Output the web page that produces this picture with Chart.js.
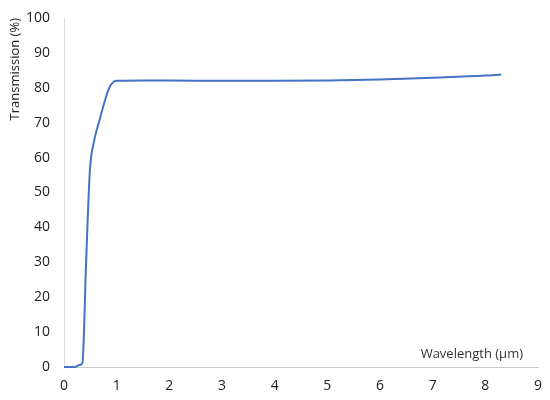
<!DOCTYPE html>
<html>
<head>
<meta charset="utf-8">
<script src="https://cdn.jsdelivr.net/npm/chart.js@4"></script>
<style>
  html, body { margin: 0; padding: 0; background: #fff; }
  #wrap { width: 550px; height: 400px; }
</style>
</head>
<body>
<div id="wrap"><canvas id="c"></canvas></div>
<script>
// wavelength in µm and transmission in %
const wavelength = [0, 0.2, 0.3, 0.35, 0.42, 0.49, 0.56, 0.68, 0.78, 0.86, 0.95, 1.0, 1.5, 2, 3, 4, 5, 6, 7, 8, 8.3];
const transmission = [0, 0, 0.6, 1.2, 30, 56, 64, 71, 76.5, 80, 81.8, 82, 82.1, 82.1, 82, 82, 82.1, 82.4, 82.9, 83.5, 83.8];

const xTitle = 'Wavelength (µm)';
const yTitle = 'Transmission (%)';

const points = wavelength.map((w, i) => ({ x: w, y: transmission[i] }));

const fontFamily = '"Open Sans", "Liberation Sans", sans-serif';

// Excel-style axis title sitting inside the plot, above the x axis
const insideTitle = {
    id: 'insideTitle',
    afterDraw(chart) {
        const ctx = chart.ctx;
        const area = chart.chartArea;
        ctx.save();
        ctx.font = '13px ' + fontFamily;
        ctx.fillStyle = '#333';
        ctx.textAlign = 'right';
        ctx.textBaseline = 'middle';
        ctx.fillText(xTitle, area.right - 15, area.bottom - 13);
        ctx.restore();
    }
};

let chart = new Chart(document.getElementById('c'), {
    type: 'line',
    data: {
        datasets: [{
            label: yTitle,
            data: points,
            borderColor: 'rgb(68, 114, 196)',
            borderWidth: 2,
            pointRadius: 0,
            cubicInterpolationMode: 'monotone',
            fill: false,
            clip: false
        }]
    },
    options: {
        responsive: true,
        maintainAspectRatio: false,
        animation: false,
        layout: { padding: { top: 18, right: 12, left: 0, bottom: 0 } },
        plugins: {
            legend: { display: false },
            tooltip: { enabled: false }
        },
        scales: {
            x: {
                type: 'linear',
                min: 0,
                max: 9,
                grid: { display: false },
                border: { display: true, color: '#c8c8c8', width: 1 },
                ticks: {
                    stepSize: 1,
                    padding: 3,
                    color: '#222',
                    font: { family: fontFamily, size: 14 }
                },
                afterFit(scale) { scale.height = 33; }
            },
            y: {
                min: 0,
                max: 100,
                grid: { display: false },
                border: { display: true, color: '#dcdcdc', width: 1 },
                title: {
                    display: true,
                    text: yTitle,
                    align: 'end',
                    color: '#222',
                    padding: { top: 7, bottom: 0 },
                    font: { family: fontFamily, size: 13 }
                },
                ticks: {
                    stepSize: 10,
                    padding: 6,
                    color: '#222',
                    font: { family: fontFamily, size: 14 }
                },
                afterFit(scale) { scale.width = 64; }
            }
        }
    },
    plugins: [insideTitle]
});
</script>
</body>
</html>
